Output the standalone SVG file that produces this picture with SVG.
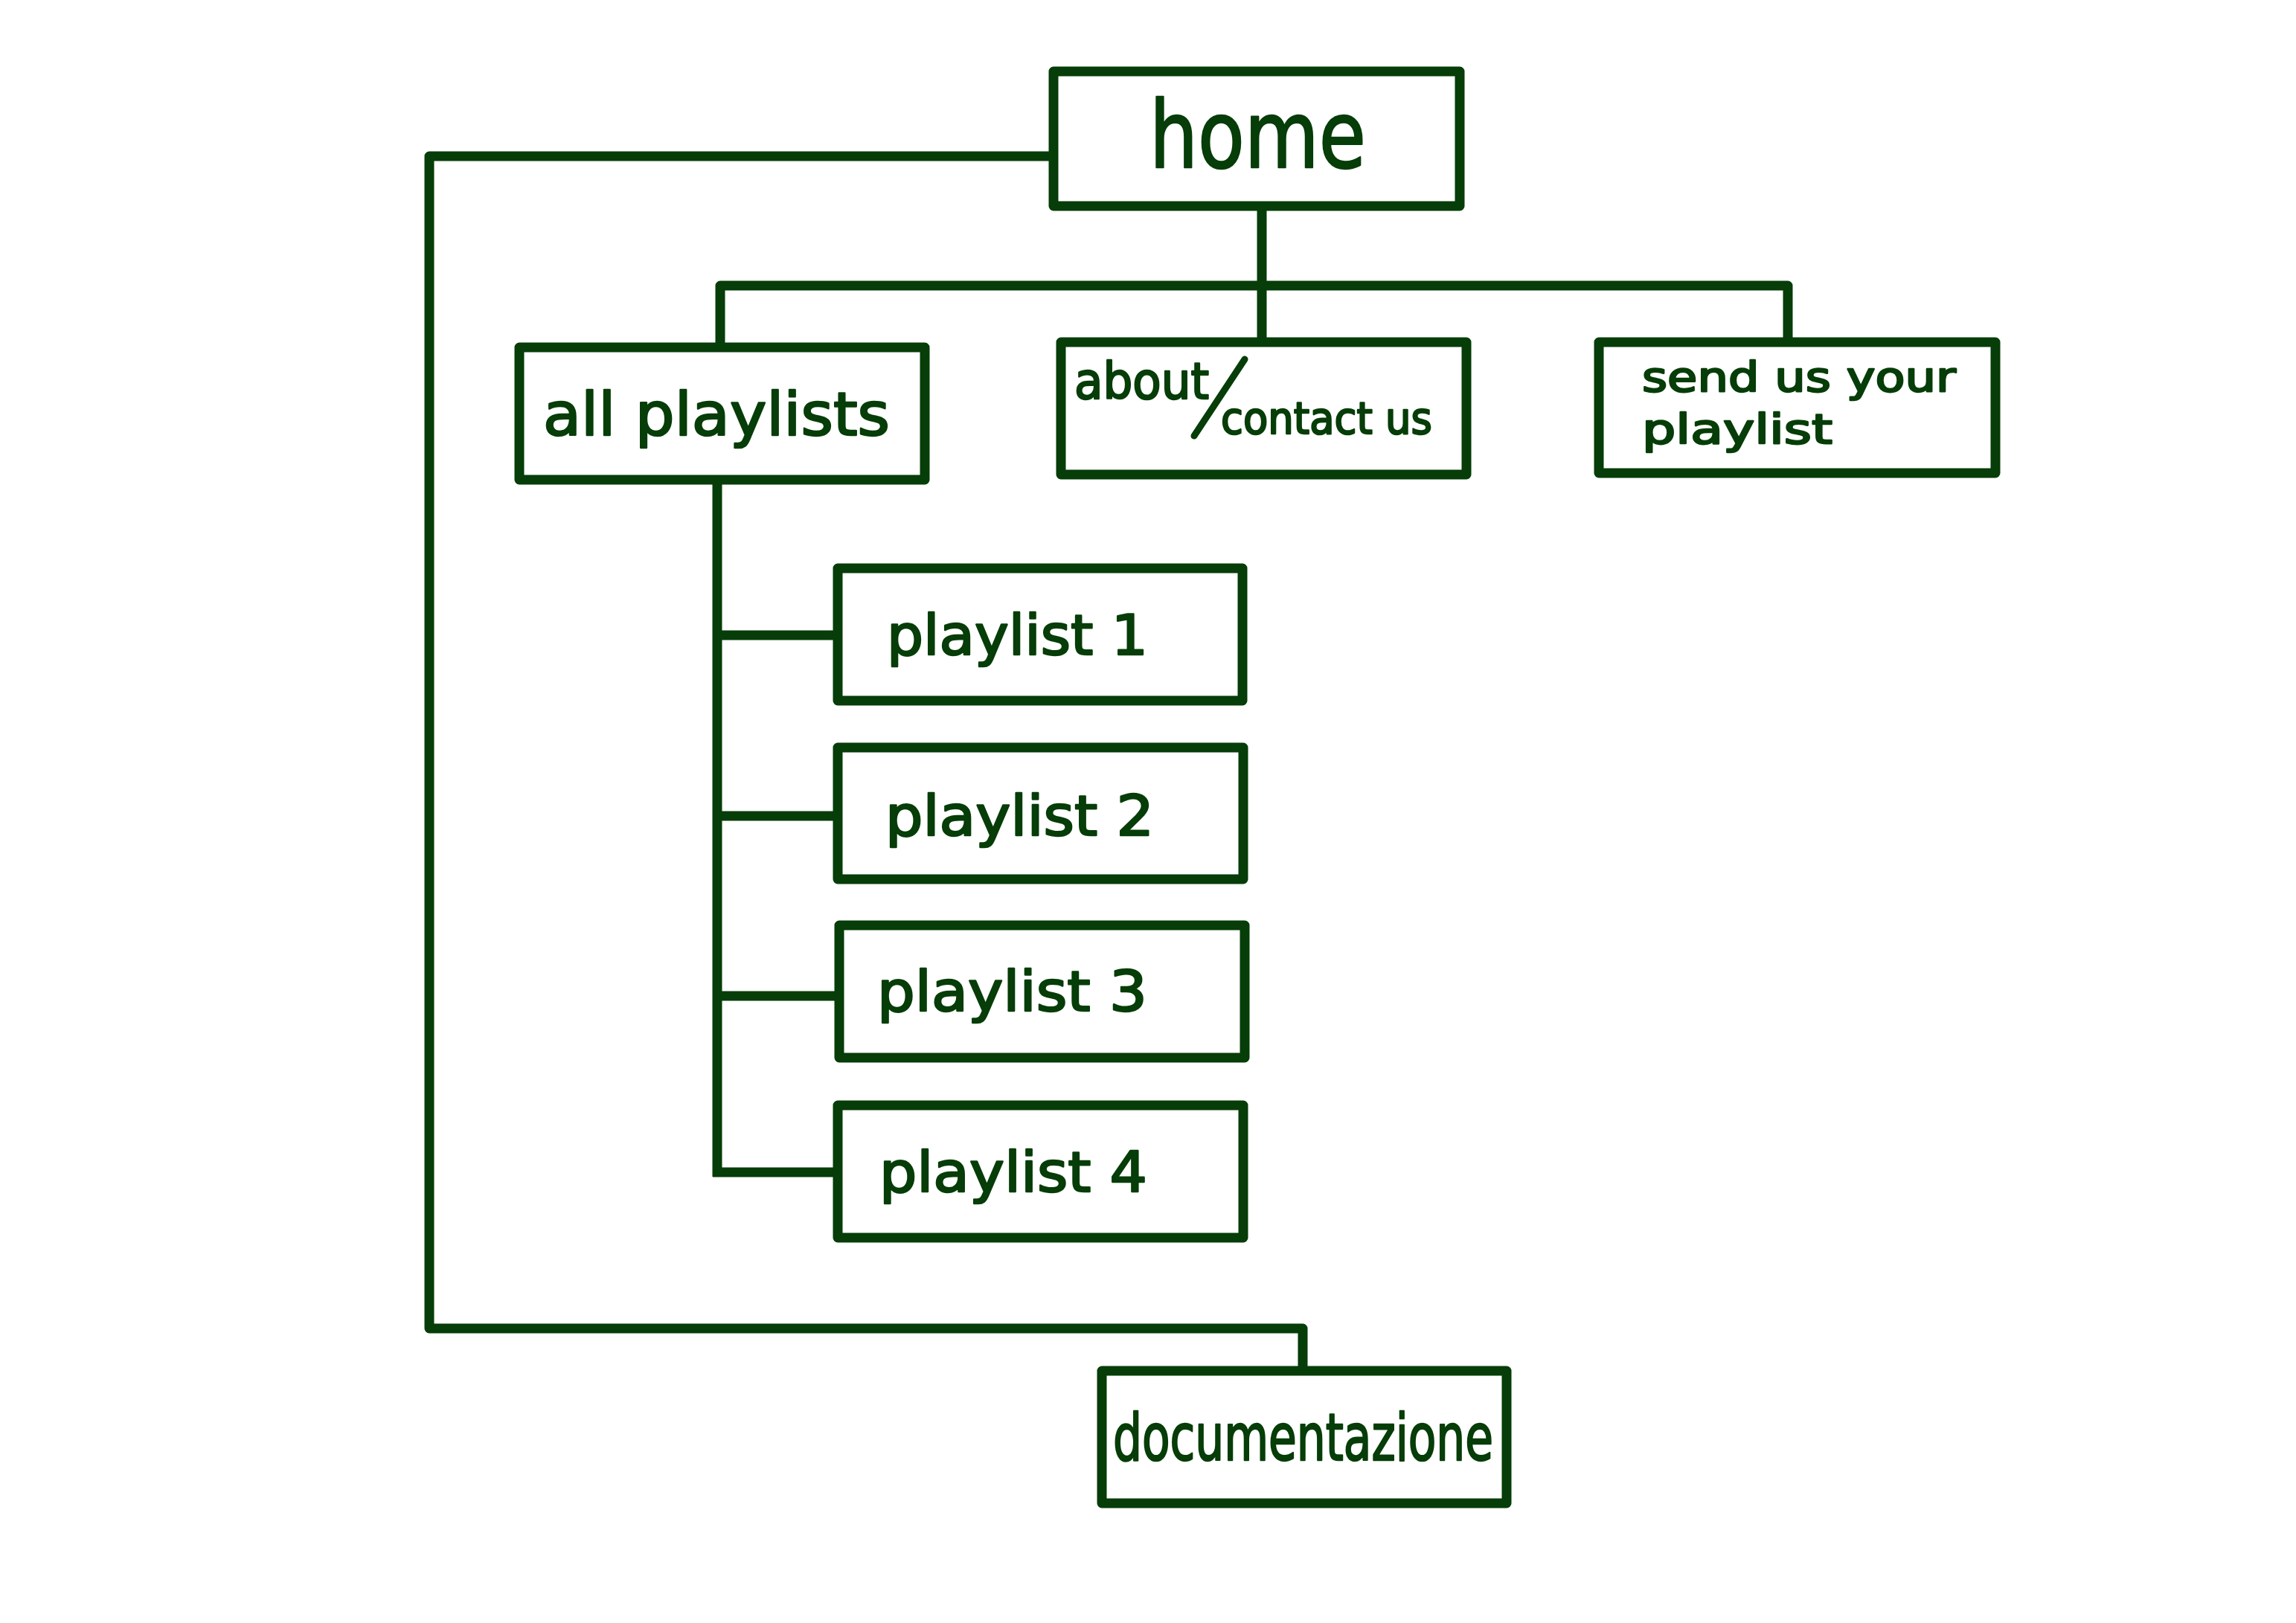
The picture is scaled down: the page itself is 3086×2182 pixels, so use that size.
<svg xmlns="http://www.w3.org/2000/svg" width="3086" height="2182" viewBox="0 0 3086 2182">
<style>
.box{fill:#ffffff;stroke:#063d08;stroke-width:13;stroke-linejoin:round}
.con{fill:none;stroke:#063d08;stroke-width:13;stroke-linejoin:round;stroke-linecap:butt}
.t{font-family:"DejaVu Sans","Liberation Sans",sans-serif;fill:#063d08;stroke:#063d08;stroke-width:2.5;stroke-linejoin:round}
</style>
<rect width="3086" height="2182" fill="#ffffff"/>
<g id="connectors">
<path class="con" d="M1416,210 H577 V1786 H1751 V1843"/>
<path class="con" d="M1696,277 V460"/>
<path class="con" d="M968,467 V384 H2403 V460"/>
<path class="con" d="M964,645 V1582"/>
<path class="con" d="M964,854 H1126"/>
<path class="con" d="M964,1097 H1126"/>
<path class="con" d="M964,1339 H1128"/>
<path class="con" d="M958,1576 H1126"/>
</g>
<g id="home">
<rect class="box" x="1416" y="96" width="546" height="181"/>
<text class="t" x="1545" y="225" font-size="124" stroke-width="4" textLength="291" lengthAdjust="spacingAndGlyphs">home</text>
</g>
<g id="all-playlists">
<rect class="box" x="698" y="467" width="545" height="178"/>
<text class="t" x="730" y="585" font-size="80" textLength="466" lengthAdjust="spacingAndGlyphs">all playlists</text>
</g>
<g id="about-contact">
<rect class="box" x="1426" y="460" width="545" height="178"/>
<text class="t" x="1444" y="536" font-size="68" textLength="181" lengthAdjust="spacingAndGlyphs">about</text>
<line x1="1673" y1="483" x2="1605" y2="586" stroke="#063d08" stroke-width="9" stroke-linecap="round"/>
<text class="t" x="1641" y="583" font-size="58" textLength="284" lengthAdjust="spacingAndGlyphs">contact us</text>
</g>
<g id="send-playlist">
<rect class="box" x="2149" y="460" width="533" height="176"/>
<text class="t" x="2207" y="526" font-size="56" stroke-width="3" textLength="422" lengthAdjust="spacingAndGlyphs">send us your</text>
<text class="t" x="2207" y="596" font-size="56" stroke-width="3" textLength="256" lengthAdjust="spacingAndGlyphs">playlist</text>
</g>
<g id="playlist-1">
<rect class="box" x="1126" y="764" width="544" height="178"/>
<text class="t" x="1192" y="880" font-size="74" textLength="351" lengthAdjust="spacingAndGlyphs">playlist 1</text>
</g>
<g id="playlist-2">
<rect class="box" x="1126" y="1005" width="545" height="177"/>
<text class="t" x="1190" y="1123" font-size="74" textLength="361" lengthAdjust="spacingAndGlyphs">playlist 2</text>
</g>
<g id="playlist-3">
<rect class="box" x="1128" y="1244" width="545" height="178"/>
<text class="t" x="1179" y="1359" font-size="74" textLength="363" lengthAdjust="spacingAndGlyphs">playlist 3</text>
</g>
<g id="playlist-4">
<rect class="box" x="1126" y="1486" width="545" height="178"/>
<text class="t" x="1182" y="1602" font-size="74" textLength="360" lengthAdjust="spacingAndGlyphs">playlist 4</text>
</g>
<g id="documentazione">
<rect class="box" x="1481" y="1843" width="544" height="178"/>
<text class="t" x="1496" y="1963" font-size="88" textLength="511" lengthAdjust="spacingAndGlyphs">documentazione</text>
</g>
</svg>
